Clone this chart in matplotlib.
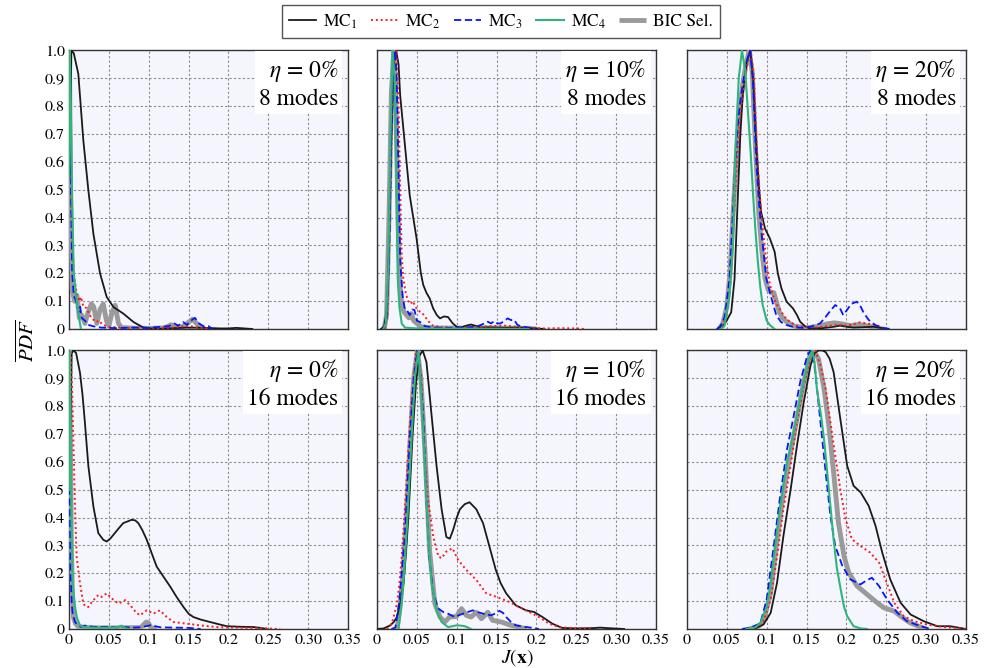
import matplotlib
matplotlib.use("Agg")
import matplotlib.pyplot as plt

plt.rcParams['font.family'] = ['STIXGeneral', 'DejaVu Serif']
plt.rcParams['mathtext.fontset'] = 'stix'

# ---- data: (J, normalised PDF) pairs ----
# eta = 0 %, 8 modes
e0m8_mc1 = [(0.001, 0.55), (0.003, 1.0), (0.006, 0.99), (0.0117, 0.916), (0.018, 0.677), (0.0243, 0.498),
            (0.0306, 0.342), (0.039, 0.199), (0.0473, 0.115), (0.0557, 0.079), (0.0683, 0.055), (0.0809, 0.025),
            (0.0934, 0.005), (0.11, 0.0), (0.13, 0.003), (0.15, 0.005), (0.17, 0.004), (0.19, 0.002),
            (0.2, 0.002), (0.21, 0.004), (0.22, 0.002), (0.23, 0.0)]
e0m8_mc2 = [(0.0005, 0.6), (0.001, 1.0), (0.003, 0.4), (0.006, 0.2), (0.01, 0.12), (0.013, 0.1), (0.015, 0.115),
            (0.018, 0.08), (0.022, 0.075), (0.026, 0.05), (0.03, 0.035), (0.034, 0.025), (0.038, 0.03),
            (0.042, 0.015), (0.05, 0.008), (0.07, 0.004), (0.1, 0.003), (0.13, 0.005), (0.15, 0.012),
            (0.16, 0.006), (0.17, 0.003), (0.18, 0.0)]
e0m8_mc3 = [(0.0005, 0.6), (0.001, 1.0), (0.002, 0.6), (0.004, 0.2), (0.006, 0.12), (0.009, 0.1), (0.012, 0.06),
            (0.014, 0.08), (0.016, 0.04), (0.02, 0.03), (0.024, 0.015), (0.03, 0.01), (0.04, 0.005),
            (0.06, 0.003), (0.08, 0.005), (0.1, 0.004), (0.115, 0.008), (0.125, 0.01), (0.132, 0.02),
            (0.137, 0.012), (0.143, 0.025), (0.148, 0.015), (0.153, 0.03), (0.158, 0.04), (0.163, 0.02),
            (0.17, 0.008), (0.175, 0.01), (0.18, 0.0)]
e0m8_mc4 = [(0.0, 0.55), (0.001, 1.0), (0.002, 0.85), (0.004, 0.45), (0.006, 0.2), (0.009, 0.12),
            (0.012, 0.05), (0.015, 0.0)]
e0m8_bic = [(0.0, 0.3), (0.0005, 1.0), (0.002, 0.5), (0.004, 0.14), (0.007, 0.1), (0.01, 0.12), (0.013, 0.04),
            (0.016, 0.05), (0.02, 0.02), (0.024, 0.06), (0.028, 0.09), (0.031, 0.08), (0.035, 0.02),
            (0.039, 0.07), (0.043, 0.09), (0.047, 0.03), (0.05, 0.01), (0.054, 0.06), (0.058, 0.085),
            (0.062, 0.02), (0.066, 0.005), (0.08, 0.003), (0.1, 0.002), (0.12, 0.004), (0.128, 0.015),
            (0.133, 0.01), (0.14, 0.004), (0.148, 0.02), (0.155, 0.035), (0.16, 0.02), (0.165, 0.005), (0.17, 0.0)]

# eta = 10 %, 8 modes
e10m8_mc1 = [(0.005, 0.0), (0.009, 0.01), (0.012, 0.06), (0.014, 0.18), (0.0175, 0.66), (0.021, 0.95),
             (0.024, 1.0), (0.027, 0.95), (0.029, 0.84), (0.035, 0.66), (0.041, 0.48), (0.0496, 0.325),
             (0.055, 0.2), (0.058, 0.158), (0.062, 0.13), (0.066, 0.11), (0.0704, 0.074), (0.075, 0.05),
             (0.079, 0.038), (0.084, 0.045), (0.089, 0.043), (0.095, 0.02), (0.1, 0.008), (0.105, 0.005),
             (0.112, 0.012), (0.118, 0.016), (0.125, 0.01), (0.13, 0.005), (0.14, 0.006), (0.16, 0.004),
             (0.18, 0.005), (0.19, 0.003), (0.2, 0.002), (0.21, 0.0)]
e10m8_mc2 = [(0.01, 0.0), (0.013, 0.05), (0.016, 0.4), (0.019, 0.8), (0.022, 0.97), (0.0245, 1.0), (0.027, 0.8),
             (0.029, 0.5), (0.031, 0.26), (0.033, 0.18), (0.036, 0.13), (0.039, 0.1), (0.042, 0.09),
             (0.045, 0.1), (0.048, 0.08), (0.052, 0.065), (0.056, 0.06), (0.06, 0.045), (0.065, 0.026),
             (0.07, 0.012), (0.08, 0.006), (0.1, 0.004), (0.12, 0.006), (0.14, 0.01), (0.16, 0.012),
             (0.175, 0.008), (0.19, 0.004), (0.21, 0.002), (0.23, 0.003), (0.25, 0.002), (0.26, 0.0)]
e10m8_mc3 = [(0.008, 0.0), (0.012, 0.03), (0.015, 0.25), (0.018, 0.7), (0.021, 0.98), (0.023, 1.0),
             (0.025, 0.85), (0.027, 0.55), (0.029, 0.25), (0.032, 0.12), (0.035, 0.07), (0.038, 0.065),
             (0.041, 0.05), (0.044, 0.07), (0.047, 0.068), (0.05, 0.03), (0.054, 0.025), (0.06, 0.01),
             (0.07, 0.005), (0.09, 0.004), (0.11, 0.005), (0.125, 0.008), (0.133, 0.018), (0.139, 0.026),
             (0.143, 0.02), (0.147, 0.028), (0.151, 0.02), (0.155, 0.02), (0.16, 0.03), (0.164, 0.038),
             (0.168, 0.032), (0.172, 0.033), (0.176, 0.015), (0.18, 0.01), (0.19, 0.005), (0.2, 0.0)]
e10m8_mc4 = [(0.008, 0.0), (0.011, 0.02), (0.014, 0.2), (0.017, 0.7), (0.0195, 1.0), (0.022, 0.9),
             (0.024, 0.6), (0.026, 0.18), (0.028, 0.08), (0.031, 0.02), (0.035, 0.005), (0.05, 0.002),
             (0.1, 0.001), (0.15, 0.001), (0.19, 0.0)]
e10m8_bic = [(0.009, 0.0), (0.012, 0.05), (0.015, 0.4), (0.018, 0.85), (0.021, 1.0), (0.023, 0.9),
             (0.025, 0.6), (0.027, 0.3), (0.029, 0.15), (0.031, 0.09), (0.034, 0.06), (0.037, 0.05),
             (0.04, 0.04), (0.043, 0.055), (0.046, 0.03), (0.05, 0.02), (0.055, 0.008), (0.07, 0.004),
             (0.1, 0.003), (0.13, 0.004), (0.16, 0.003), (0.19, 0.002), (0.2, 0.0)]

# eta = 20 %, 8 modes
e20m8_mc1 = [(0.038, 0.0), (0.045, 0.01), (0.049, 0.026), (0.0555, 0.06), (0.0597, 0.18), (0.0639, 0.48),
             (0.067, 0.7), (0.07, 0.84), (0.075, 0.96), (0.0794, 1.0), (0.083, 0.9), (0.087, 0.66),
             (0.09, 0.52), (0.093, 0.42), (0.098, 0.36), (0.104, 0.325), (0.11, 0.277), (0.114, 0.2),
             (0.1185, 0.146), (0.125, 0.098), (0.133, 0.074), (0.138, 0.05), (0.142, 0.026), (0.148, 0.01),
             (0.154, 0.002), (0.17, 0.003), (0.184, 0.008), (0.192, 0.012), (0.2, 0.008), (0.209, 0.005),
             (0.22, 0.006), (0.234, 0.008), (0.245, 0.003), (0.25, 0.0)]
e20m8_mc2 = [(0.038, 0.0), (0.043, 0.01), (0.049, 0.04), (0.054, 0.15), (0.058, 0.35), (0.062, 0.58),
             (0.066, 0.75), (0.07, 0.85), (0.075, 0.94), (0.08, 1.0), (0.084, 0.9), (0.088, 0.62),
             (0.093, 0.42), (0.0996, 0.24), (0.104, 0.16), (0.108, 0.12), (0.112, 0.09), (0.116, 0.074),
             (0.122, 0.045), (0.129, 0.026), (0.137, 0.012), (0.146, 0.008), (0.16, 0.005), (0.175, 0.01),
             (0.19, 0.015), (0.2, 0.012), (0.21, 0.018), (0.217, 0.024), (0.225, 0.02), (0.238, 0.014),
             (0.245, 0.005), (0.25, 0.0)]
e20m8_mc3 = [(0.038, 0.0), (0.042, 0.01), (0.047, 0.04), (0.05, 0.1), (0.0534, 0.18), (0.0565, 0.35),
             (0.0597, 0.54), (0.063, 0.7), (0.066, 0.8), (0.07, 0.88), (0.075, 0.96), (0.0794, 1.0),
             (0.083, 0.88), (0.087, 0.6), (0.09, 0.47), (0.093, 0.36), (0.0996, 0.18), (0.106, 0.11),
             (0.112, 0.05), (0.118, 0.025), (0.125, 0.014), (0.135, 0.006), (0.146, 0.004), (0.155, 0.008),
             (0.167, 0.02), (0.173, 0.04), (0.179, 0.062), (0.186, 0.086), (0.192, 0.074), (0.196, 0.05),
             (0.2, 0.065), (0.206, 0.09), (0.213, 0.098), (0.218, 0.08), (0.221, 0.062), (0.226, 0.04),
             (0.23, 0.026), (0.236, 0.015), (0.242, 0.006), (0.255, 0.0)]
e20m8_mc4 = [(0.042, 0.0), (0.047, 0.01), (0.0534, 0.12), (0.0576, 0.3), (0.061, 0.66), (0.065, 0.9),
             (0.069, 1.0), (0.073, 0.93), (0.0765, 0.78), (0.08, 0.63), (0.083, 0.48), (0.086, 0.35),
             (0.089, 0.24), (0.092, 0.15), (0.095, 0.086), (0.1, 0.03), (0.104, 0.014), (0.11, 0.0)]
e20m8_bic = [(0.04, 0.0), (0.045, 0.02), (0.05, 0.08), (0.054, 0.2), (0.058, 0.42), (0.062, 0.62),
             (0.066, 0.78), (0.07, 0.88), (0.074, 0.95), (0.078, 1.0), (0.082, 0.92), (0.086, 0.65),
             (0.09, 0.42), (0.094, 0.28), (0.098, 0.18), (0.102, 0.14), (0.106, 0.13), (0.109, 0.13),
             (0.113, 0.09), (0.116, 0.06), (0.12, 0.04), (0.125, 0.026), (0.135, 0.01), (0.15, 0.004),
             (0.165, 0.01), (0.175, 0.018), (0.185, 0.022), (0.195, 0.018), (0.205, 0.012), (0.215, 0.016),
             (0.225, 0.012), (0.235, 0.006), (0.245, 0.0)]

# eta = 0 %, 16 modes
e0m16_mc1 = [(0.001, 0.6), (0.0034, 0.99), (0.006, 1.0), (0.009, 0.99), (0.0138, 0.92), (0.017, 0.84),
             (0.02, 0.74), (0.0243, 0.585), (0.0306, 0.44), (0.0368, 0.344), (0.0431, 0.32), (0.0473, 0.314),
             (0.052, 0.325), (0.0557, 0.338), (0.062, 0.36), (0.068, 0.38), (0.0787, 0.392), (0.083, 0.39),
             (0.087, 0.38), (0.092, 0.355), (0.0976, 0.32), (0.104, 0.27), (0.11, 0.224), (0.118, 0.19),
             (0.127, 0.152), (0.135, 0.115), (0.1436, 0.079), (0.15, 0.055), (0.156, 0.043), (0.165, 0.034),
             (0.177, 0.025), (0.188, 0.017), (0.198, 0.01), (0.215, 0.008), (0.2315, 0.007), (0.24, 0.004),
             (0.248, 0.0)]
e0m16_mc2 = [(0.0, 0.5), (0.002, 1.0), (0.004, 0.85), (0.0054, 0.68), (0.0075, 0.44), (0.0096, 0.26),
             (0.0138, 0.164), (0.018, 0.091), (0.021, 0.08), (0.0243, 0.079), (0.0306, 0.1035), (0.0368, 0.122),
             (0.041, 0.115), (0.0473, 0.128), (0.0536, 0.11), (0.062, 0.091), (0.0703, 0.1035), (0.0787, 0.079),
             (0.084, 0.06), (0.089, 0.049), (0.0976, 0.067), (0.106, 0.055), (0.114, 0.067), (0.1227, 0.043),
             (0.131, 0.025), (0.148, 0.019), (0.1646, 0.013), (0.185, 0.007), (0.206, 0.005), (0.24, 0.003),
             (0.265, 0.0)]
e0m16_mc3 = [(0.0, 0.78), (0.001, 0.5), (0.002, 0.2), (0.0035, 0.09), (0.0046, 0.055), (0.0075, 0.025),
             (0.011, 0.015), (0.015, 0.008), (0.02, 0.012), (0.025, 0.01), (0.03, 0.008), (0.04, 0.007),
             (0.05, 0.008), (0.06, 0.006), (0.07, 0.007), (0.08, 0.005), (0.09, 0.006), (0.1, 0.012),
             (0.104, 0.015), (0.108, 0.01), (0.115, 0.006), (0.13, 0.005), (0.15, 0.004), (0.165, 0.0)]
e0m16_mc4 = [(0.0, 0.5), (0.001, 1.0), (0.002, 0.7), (0.003, 0.4), (0.0046, 0.164), (0.0075, 0.08),
             (0.01, 0.04), (0.0138, 0.013), (0.02, 0.006), (0.04, 0.004), (0.06, 0.006), (0.066, 0.012),
             (0.07, 0.004), (0.075, 0.0)]
e0m16_bic = [(0.0, 0.55), (0.0007, 1.0), (0.002, 0.6), (0.003, 0.3), (0.0045, 0.1), (0.0055, 0.043),
             (0.008, 0.02), (0.012, 0.008), (0.03, 0.004), (0.06, 0.004), (0.09, 0.005), (0.097, 0.025),
             (0.1, 0.02), (0.103, 0.004), (0.11, 0.0)]

# eta = 10 %, 16 modes
e10m16_mc1 = [(0.0, 0.0), (0.0083, 0.002), (0.0166, 0.013), (0.021, 0.025), (0.025, 0.043), (0.029, 0.09),
              (0.0332, 0.164), (0.0365, 0.28), (0.0394, 0.404), (0.042, 0.55), (0.0448, 0.705), (0.049, 0.886),
              (0.053, 0.98), (0.0573, 1.0), (0.062, 0.958), (0.065, 0.87), (0.0685, 0.765), (0.0747, 0.585),
              (0.081, 0.43), (0.087, 0.33), (0.0913, 0.324), (0.0955, 0.356), (0.1, 0.4), (0.104, 0.43),
              (0.11, 0.448), (0.116, 0.455), (0.1245, 0.43), (0.133, 0.38), (0.141, 0.296), (0.149, 0.212),
              (0.155, 0.165), (0.162, 0.128), (0.174, 0.085), (0.187, 0.067), (0.197, 0.061), (0.2075, 0.043),
              (0.22, 0.019), (0.232, 0.004), (0.25, 0.002), (0.27, 0.003), (0.28, 0.005), (0.29, 0.003),
              (0.31, 0.0)]
e10m16_mc2 = [(0.0125, 0.0), (0.0187, 0.02), (0.025, 0.09), (0.028, 0.16), (0.031, 0.26), (0.034, 0.39),
              (0.037, 0.525), (0.04, 0.68), (0.0436, 0.825), (0.049, 1.0), (0.053, 0.97), (0.056, 0.886),
              (0.059, 0.645), (0.064, 0.465), (0.0705, 0.332), (0.077, 0.26), (0.081, 0.254), (0.087, 0.278),
              (0.0946, 0.29), (0.1017, 0.248), (0.112, 0.212), (0.1245, 0.176), (0.137, 0.128), (0.149, 0.116),
              (0.166, 0.097), (0.178, 0.079), (0.191, 0.061), (0.203, 0.043), (0.216, 0.019), (0.228, 0.007),
              (0.245, 0.003), (0.26, 0.002), (0.27, 0.0)]
e10m16_mc3 = [(0.018, 0.0), (0.023, 0.005), (0.028, 0.1), (0.031, 0.2), (0.035, 0.34), (0.038, 0.5),
              (0.0415, 0.7), (0.046, 0.9), (0.0506, 1.0), (0.054, 0.93), (0.058, 0.765), (0.062, 0.46),
              (0.0656, 0.26), (0.0705, 0.128), (0.077, 0.073), (0.083, 0.061), (0.089, 0.055), (0.0975, 0.043),
              (0.103, 0.05), (0.108, 0.055), (0.115, 0.062), (0.12, 0.067), (0.127, 0.06), (0.133, 0.055),
              (0.143, 0.049), (0.148, 0.055), (0.1535, 0.065), (0.158, 0.058), (0.162, 0.043), (0.168, 0.025),
              (0.174, 0.013), (0.187, 0.007), (0.195, 0.004), (0.203, 0.0)]
e10m16_mc4 = [(0.027, 0.0), (0.031, 0.1), (0.034, 0.2), (0.037, 0.34), (0.04, 0.5), (0.0436, 0.7),
              (0.0477, 0.91), (0.052, 1.0), (0.056, 0.825), (0.06, 0.585), (0.064, 0.344), (0.0685, 0.164),
              (0.0747, 0.067), (0.081, 0.025), (0.089, 0.007), (0.095, 0.01), (0.0996, 0.013), (0.105, 0.012),
              (0.11, 0.01), (0.118, 0.0)]
e10m16_bic = [(0.025, 0.0), (0.029, 0.08), (0.033, 0.22), (0.037, 0.42), (0.041, 0.65), (0.046, 0.9),
              (0.0506, 1.0), (0.055, 0.9), (0.06, 0.645), (0.066, 0.28), (0.0726, 0.09), (0.079, 0.043),
              (0.085, 0.025), (0.091, 0.043), (0.0996, 0.045), (0.106, 0.073), (0.112, 0.049), (0.118, 0.043),
              (0.1245, 0.06), (0.131, 0.037), (0.139, 0.06), (0.145, 0.031), (0.156, 0.025), (0.166, 0.015),
              (0.178, 0.007), (0.188, 0.0)]

# eta = 20 %, 16 modes
e20m16_mc1 = [(0.084, 0.0), (0.096, 0.016), (0.105, 0.058), (0.113, 0.166), (0.121, 0.334), (0.13, 0.5),
              (0.138, 0.658), (0.1465, 0.814), (0.155, 0.946), (0.16, 0.99), (0.165, 1.0), (0.17, 1.0),
              (0.174, 0.994), (0.179, 0.97), (0.184, 0.922), (0.193, 0.742), (0.201, 0.586), (0.209, 0.514),
              (0.218, 0.49), (0.228, 0.442), (0.2366, 0.37), (0.245, 0.274), (0.255, 0.178), (0.268, 0.094),
              (0.2805, 0.052), (0.297, 0.028), (0.314, 0.01), (0.33, 0.01), (0.35, 0.0)]
e20m16_mc2 = [(0.08, 0.0), (0.09, 0.01), (0.096, 0.028), (0.105, 0.106), (0.113, 0.26), (0.121, 0.43),
              (0.13, 0.586), (0.138, 0.742), (0.1465, 0.874), (0.155, 0.97), (0.161, 1.0), (0.1675, 0.946),
              (0.174, 0.862), (0.18, 0.742), (0.186, 0.622), (0.193, 0.49), (0.199, 0.394), (0.207, 0.322),
              (0.2177, 0.298), (0.23, 0.274), (0.241, 0.238), (0.249, 0.178), (0.26, 0.094), (0.272, 0.046),
              (0.285, 0.028), (0.301, 0.016), (0.322, 0.007), (0.34, 0.003), (0.35, 0.0)]
e20m16_mc3 = [(0.069, 0.0), (0.08, 0.005), (0.092, 0.02), (0.1, 0.106), (0.109, 0.3), (0.117, 0.478),
              (0.1256, 0.646), (0.134, 0.766), (0.142, 0.886), (0.151, 0.982), (0.155, 1.0), (0.158, 0.98),
              (0.161, 0.922), (0.1675, 0.742), (0.174, 0.562), (0.18, 0.406), (0.186, 0.298), (0.195, 0.226),
              (0.205, 0.178), (0.2177, 0.16), (0.224, 0.172), (0.232, 0.184), (0.241, 0.154), (0.251, 0.106),
              (0.264, 0.058), (0.276, 0.028), (0.293, 0.01), (0.306, 0.0)]
e20m16_mc4 = [(0.075, 0.0), (0.085, 0.005), (0.092, 0.02), (0.1, 0.08), (0.105, 0.16), (0.109, 0.26),
              (0.113, 0.35), (0.117, 0.44), (0.1256, 0.6), (0.134, 0.706), (0.142, 0.826), (0.151, 0.946),
              (0.157, 1.0), (0.16, 0.96), (0.163, 0.862), (0.168, 0.77), (0.172, 0.68), (0.178, 0.5),
              (0.184, 0.32), (0.188, 0.22), (0.193, 0.14), (0.197, 0.08), (0.201, 0.046), (0.209, 0.01),
              (0.218, 0.002), (0.226, 0.0)]
e20m16_bic = [(0.078, 0.0), (0.09, 0.01), (0.096, 0.028), (0.105, 0.13), (0.113, 0.32), (0.121, 0.49),
              (0.13, 0.634), (0.138, 0.754), (0.1465, 0.886), (0.155, 0.988), (0.159, 1.0), (0.165, 0.97),
              (0.172, 0.862), (0.178, 0.73), (0.184, 0.562), (0.19, 0.382), (0.197, 0.262), (0.203, 0.202),
              (0.2135, 0.154), (0.226, 0.124), (0.2387, 0.094), (0.247, 0.076), (0.26, 0.064), (0.268, 0.046),
              (0.28, 0.022), (0.293, 0.007), (0.3, 0.0)]

panels = [
    ("0%", 8, [e0m8_mc1, e0m8_mc2, e0m8_mc3, e0m8_mc4, e0m8_bic]),
    ("10%", 8, [e10m8_mc1, e10m8_mc2, e10m8_mc3, e10m8_mc4, e10m8_bic]),
    ("20%", 8, [e20m8_mc1, e20m8_mc2, e20m8_mc3, e20m8_mc4, e20m8_bic]),
    ("0%", 16, [e0m16_mc1, e0m16_mc2, e0m16_mc3, e0m16_mc4, e0m16_bic]),
    ("10%", 16, [e10m16_mc1, e10m16_mc2, e10m16_mc3, e10m16_mc4, e10m16_bic]),
    ("20%", 16, [e20m16_mc1, e20m16_mc2, e20m16_mc3, e20m16_mc4, e20m16_bic]),
]

series_labels = [r'MC$_1$', r'MC$_2$', r'MC$_3$', r'MC$_4$', 'BIC Sel.']
xticks = [0, 0.05, 0.1, 0.15, 0.2, 0.25, 0.30, 0.35]
xticklabels = ['0', '0.05', '0.1', '0.15', '0.2', '0.25', '0.30', '0.35']
yticks = [0, 0.1, 0.2, 0.3, 0.4, 0.5, 0.6, 0.7, 0.8, 0.9, 1.0]
yticklabels = ['0', '0.1', '0.2', '0.3', '0.4', '0.5', '0.6', '0.7', '0.8', '0.9', '1.0']

styles = [
    dict(color='#1a1a1a', lw=1.3, ls='-', zorder=4),
    dict(color='#ff1a1a', lw=1.4, ls=(0, (1, 1.5)), zorder=5),
    dict(color='#0018ff', lw=1.3, ls=(0, (4, 2)), zorder=6),
    dict(color='#2fb57c', lw=1.5, ls='-', zorder=7),
    dict(color='#9a9a9a', lw=3.5, ls='-', zorder=3, solid_capstyle='butt'),
]

fig = plt.figure(figsize=(9.94, 6.68), dpi=100)
lefts = [0.0694, 0.3793, 0.6911]
bottoms = [0.5075, 0.0584]
w, h = 0.2807, 0.4170

handles = []
for i, (eta, modes, curves) in enumerate(panels):
    r, c = divmod(i, 3)
    ax = fig.add_axes([lefts[c], bottoms[r], w, h])
    ax.set_facecolor('#f5f5fd')
    for k, (pts, st) in enumerate(zip(curves, styles)):
        xs = [p[0] for p in pts]
        ys = [p[1] for p in pts]
        ln, = ax.plot(xs, ys, label=series_labels[k], **st)
        if i == 0:
            handles.append(ln)
    ax.set_xlim(0, 0.35)
    ax.set_ylim(0, 1.0)
    ax.set_xticks(xticks)
    ax.set_yticks(yticks)
    ax.grid(True, color='#8a8a8a', lw=0.8, ls=(0, (2, 2)))
    ax.set_axisbelow(True)
    ax.tick_params(length=0, labelsize=11.5, pad=3)
    if r == 1:
        ax.set_xticklabels(xticklabels)
    else:
        ax.set_xticklabels([])
    if c == 0:
        ax.set_yticklabels(yticklabels)
    else:
        ax.set_yticklabels([])
    for sp in ax.spines.values():
        sp.set_color('#333333')
        sp.set_linewidth(1.0)
    ax.text(0.965, 0.975, r'$\eta$ = ' + eta + '\n' + f'{modes} modes',
            transform=ax.transAxes, ha='right', va='top', fontsize=17,
            linespacing=1.25, zorder=10,
            bbox=dict(facecolor='white', edgecolor='none', pad=3))

fig.legend(handles, series_labels, loc='upper center', bbox_to_anchor=(0.504, 0.997),
           ncol=5, fontsize=12.5, frameon=True, fancybox=False, edgecolor='#555555',
           framealpha=1, handlelength=1.6, columnspacing=0.75, handletextpad=0.4,
           borderpad=0.4, borderaxespad=0.2)

fig.text(0.028, 0.49, r'$\overline{PDF}$', rotation=90, ha='center', va='center', fontsize=15)
fig.text(0.52, 0.0, r'$J(\mathbf{x})$', ha='center', va='bottom', fontsize=14)

fig.savefig('out.png', dpi=100)
